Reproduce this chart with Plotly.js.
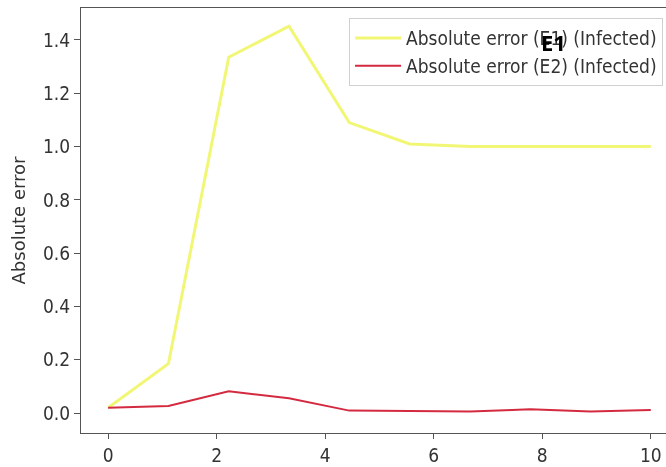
<!DOCTYPE html>
<html>
<head>
<meta charset="utf-8">
<script src="https://cdn.plot.ly/plotly-3.0.1.min.js"></script>
<style>
  html, body { margin: 0; padding: 0; background: #ffffff; overflow: hidden; }
  #chart { width: 666px; height: 467px; filter: blur(0.45px); }
</style>
</head>
<body>
<div id="chart"></div>
<script>
// Time samples (linspace 0..10, 10 points)
const timeSteps = [0, 1.111, 2.222, 3.333, 4.444, 5.556, 6.667, 7.778, 8.889, 10];

// Absolute error of the infected compartment for each estimator
const errorE1 = [0.02, 0.185, 1.335, 1.452, 1.09, 1.01, 1.0, 1.0, 1.0, 1.0];
const errorE2 = [0.02, 0.026, 0.082, 0.055, 0.009, 0.008, 0.006, 0.014, 0.006, 0.011];

const seriesNames = ['Absolute error (E1) (Infected)', 'Absolute error (E2) (Infected)'];
const yTicks = [0.0, 0.2, 0.4, 0.6, 0.8, 1.0, 1.2, 1.4];
const xTicks = [0, 2, 4, 6, 8, 10];

const traces = [
  {
    x: timeSteps, y: errorE1, name: seriesNames[0], mode: 'lines',
    legendgroup: 'e1',
    line: { color: '#f1f775', width: 3 }
  },
  {
    x: timeSteps, y: errorE2, name: seriesNames[1], mode: 'lines',
    legendgroup: 'e2',
    line: { color: '#d42a40', width: 2 }
  }
];

const family = '"DejaVu Sans Condensed", "Liberation Sans Narrow", "Liberation Sans", sans-serif';
const axisFont = { family: family, size: 19, color: '#333333' };
const titleFont = { family: '"DejaVu Sans", sans-serif', size: 18, color: '#333333' };

const layout = {
  width: 666,
  height: 467,
  margin: { l: 81, r: 0, t: 8, b: 34 },
  paper_bgcolor: '#ffffff',
  plot_bgcolor: '#ffffff',
  showlegend: true,
  legend: {
    x: 0.995, y: 0.976, xanchor: 'right', yanchor: 'top',
    bgcolor: '#ffffff', bordercolor: '#d0d0d0', borderwidth: 1,
    font: { family: family, size: 19, color: '#333333' },
    itemwidth: 46,
    traceorder: 'grouped', tracegroupgap: 0
  },
  xaxis: {
    range: [-0.5, 10.28],
    tickvals: xTicks,
    ticktext: xTicks.map(String),
    showgrid: false, zeroline: false,
    showline: true, mirror: true, linecolor: '#555555', linewidth: 1,
    ticks: 'outside', ticklen: 5, tickcolor: '#555555',
    tickfont: axisFont
  },
  yaxis: {
    range: [-0.075, 1.52],
    tickvals: yTicks,
    ticktext: yTicks.map(v => v.toFixed(1)),
    showgrid: false, zeroline: false,
    showline: true, mirror: false, linecolor: '#555555', linewidth: 1,
    ticks: 'outside', ticklen: 6, tickcolor: '#555555',
    tickfont: axisFont,
    title: { text: 'Absolute error', font: titleFont, standoff: 12 }
  },
  annotations: [
    {
      text: '<b>E1</b>', xref: 'paper', yref: 'paper',
      x: (553 - 81) / 585, y: (433 - 42) / 425,
      xanchor: 'center', yanchor: 'middle', showarrow: false,
      font: { family: 'Open Sans', size: 22, color: '#000000' }
    }
  ]
};

Plotly.newPlot('chart', traces, layout, { displayModeBar: false, staticPlot: true });
</script>
</body>
</html>
